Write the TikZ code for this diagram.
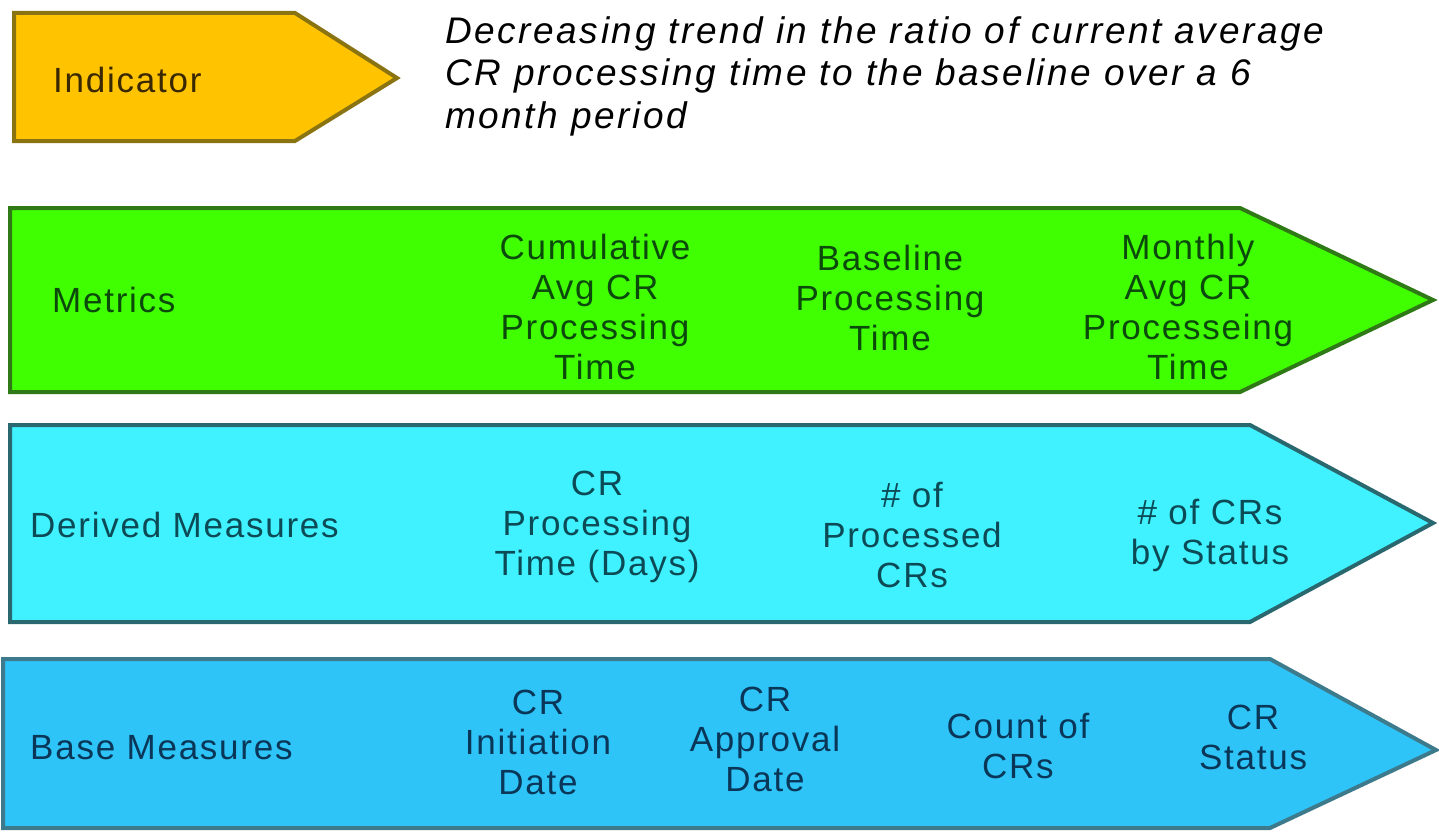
\documentclass[tikz,border=0pt]{standalone}
\usepackage{fontspec}
\setmainfont{Liberation Sans}
\newfontfamily\bandfont[LetterSpace=5]{Liberation Sans}
\newfontfamily\descfont[LetterSpace=7]{Liberation Sans}
\begin{document}
\begin{tikzpicture}[x=1pt,y=-1pt,
  band/.style={line width=4pt, line join=miter},
  lbl/.style={align=center, inner sep=0pt, font={\bandfont\fontsize{35}{40}\selectfont}},
  lft/.style={anchor=west, inner sep=0pt, font={\bandfont\fontsize{35}{40}\selectfont}}]
\definecolor{indfill}{HTML}{FFC300}
\definecolor{inddraw}{HTML}{8A7412}
\definecolor{indtext}{HTML}{3A2800}
\definecolor{metfill}{HTML}{40FF00}
\definecolor{metdraw}{HTML}{2F7A16}
\definecolor{mettext}{HTML}{0B4A0B}
\definecolor{derfill}{HTML}{40F2FF}
\definecolor{derdraw}{HTML}{2A6870}
\definecolor{dertext}{HTML}{0C4A56}
\definecolor{basfill}{HTML}{2EC4F8}
\definecolor{basdraw}{HTML}{3D7A8C}
\definecolor{bastext}{HTML}{0A3658}
\useasboundingbox (0,0) rectangle (1439,832);
\fill[white] (0,0) rectangle (1439,832);

% indicator arrow
\draw[band, fill=indfill, draw=inddraw] (14,13) -- (295,13) -- (397,78) -- (295,141) -- (14,141) -- cycle;
\node[lft, text=indtext] (ind) at (53,80) {Indicator};
\node[anchor=north west, align=left, inner sep=0pt, font={\descfont\fontsize{37}{42.5}\selectfont\itshape}] (desc) at (445,16)
  {Decreasing trend in the ratio of current average\\CR processing time to the baseline over a 6\\month period};

% metrics band
\draw[band, fill=metfill, draw=metdraw] (10,208) -- (1240,208) -- (1433,300) -- (1240,392) -- (10,392) -- cycle;
\node[lft, text=mettext] (met) at (52,300) {Metrics};
\node[lbl, text=mettext] (cum) at (595,307) {Cumulative\\Avg CR\\Processing\\Time};
\node[lbl, text=mettext] (bpt) at (890,298) {Baseline\\Processing\\Time};
\node[lbl, text=mettext] (mon) at (1188,307) {Monthly\\Avg CR\\Processeing\\Time};

% derived measures band
\draw[band, fill=derfill, draw=derdraw] (10,425) -- (1250,425) -- (1433,523) -- (1250,622) -- (10,622) -- cycle;
\node[lft, text=dertext] (der) at (30,525) {Derived Measures};
\node[lbl, text=dertext] (cpt) at (597,527) {CR\\Processing\\Time (Days)};
\node[lbl, text=dertext] (npc) at (912,535) {\# of\\Processed\\CRs};
\node[lbl, text=dertext] (nst) at (1210,535) {\# of CRs\\by Status};

% base measures band
\draw[band, fill=basfill, draw=basdraw] (3,659) -- (1270,659) -- (1436,750) -- (1270,828) -- (3,828) -- cycle;
\node[lft, text=bastext] (bas) at (30,748) {Base Measures};
\node[lbl, text=bastext] (cid) at (538,742) {CR\\Initiation\\Date};
\node[lbl, text=bastext] (cad) at (765,739) {CR\\Approval\\Date};
\node[lbl, text=bastext] (cnt) at (1018,746) {Count of\\CRs};
\node[lbl, text=bastext] (cst) at (1253,737) {CR\\Status};
\end{tikzpicture}
\end{document}
